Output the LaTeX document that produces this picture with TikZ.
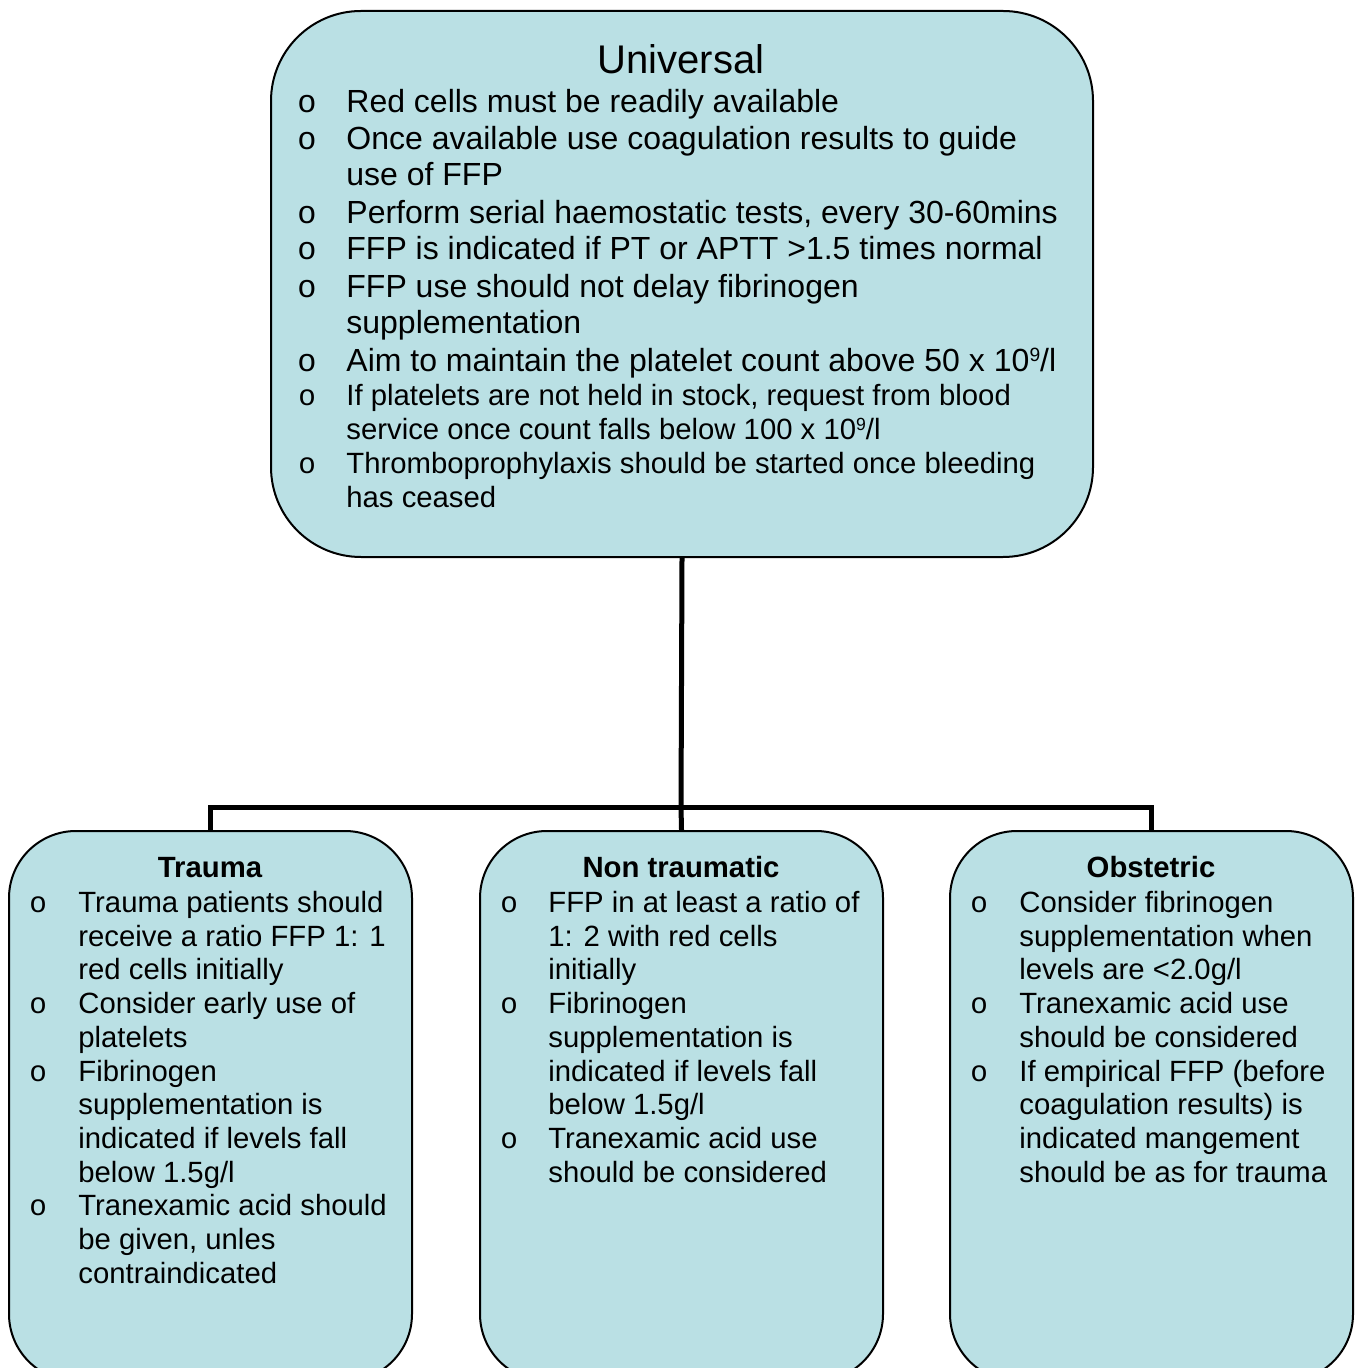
\documentclass[tikz,border=0pt]{standalone}
\usepackage{fontspec}
\setmainfont{Liberation Sans}
\newfontfamily\bulletfont{Liberation Mono}
\definecolor{boxfill}{RGB}{186,224,228}
\newcommand{\supnine}[2]{\raisebox{#2}{\fontsize{#1}{#1}\selectfont 9}}
\begin{document}
\begin{tikzpicture}[x=0.5pt,y=-0.5pt,
  bigbox/.style={draw=black,line width=1pt,fill=boxfill,rounded corners=45pt,
    minimum width=411pt,minimum height=273pt,inner sep=0pt,anchor=north west},
  smallbox/.style={draw=black,line width=1pt,fill=boxfill,rounded corners=33.5pt,
    minimum width=201.5pt,minimum height=275pt,inner sep=0pt,anchor=north west},
  link/.style={line width=2.5pt,draw=black},
  txt/.style={anchor=base west,inner sep=0pt,font=\fontsize{16}{19}\selectfont},
  stxt/.style={anchor=base west,inner sep=0pt,font=\fontsize{14.65}{17}\selectfont},
  bul/.style={anchor=base west,inner sep=0pt,font=\fontsize{16}{19}\bulletfont},
  sbul/.style={anchor=base west,inner sep=0pt,font=\fontsize{14.65}{17}\bulletfont},
  head/.style={anchor=base,inner sep=0pt,font=\fontsize{14.65}{17}\selectfont\bfseries},
  title/.style={anchor=base,inner sep=0pt,font=\fontsize{20}{24}\selectfont}]
\useasboundingbox (0,0) rectangle (1357,1368);
\clip (0,0) rectangle (1357,1368);
% boxes
\node[bigbox] (U) at (270,10) {};
\node[smallbox] (T) at (8,830) {};
\node[smallbox] (N) at (479,830) {};
\node[smallbox] (O) at (949,830) {};
% connectors
\coordinate (J) at (681,807);
\draw[link] (U.south) -- (J);
\draw[link] (J) -| (T.north);
\draw[link] (J) -| (O.north);
\draw[link] (J) -- (N.north);
% top box text
\node[title] (ut) at (681,74) {Universal};
\node[bul] (ub1) at (297,112.5) {o};
\node[txt] (u1) at (346,112.5) {Red cells must be readily available};
\node[bul] (ub2) at (297,149.5) {o};
\node[txt] (u2) at (346,149.5) {Once available use coagulation results to guide};
\node[txt] (u3) at (346,185.5) {use of FFP};
\node[bul] (ub4) at (297,223.5) {o};
\node[txt] (u4) at (346,223.5) {Perform serial haemostatic tests, every 30-60mins};
\node[bul] (ub5) at (297,259.5) {o};
\node[txt] (u5) at (346,259.5) {FFP is indicated if PT or APTT >1.5 times normal};
\node[bul] (ub6) at (297,297.5) {o};
\node[txt] (u6) at (346,297.5) {FFP use should not delay fibrinogen};
\node[txt] (u7) at (346,333.5) {supplementation};
\node[bul] (ub8) at (297,371.5) {o};
\node[txt] (u8) at (346,371.5) {Aim to maintain the platelet count above 50 x 10\supnine{9.6pt}{5.1pt}/l};
\node[sbul] (ub9) at (298,405.5) {o};
\node[stxt] (u9) at (346,405.5) {If platelets are not held in stock, request from blood};
\node[stxt] (u10) at (346,439.5) {service once count falls below 100 x 10\supnine{8.8pt}{4.7pt}/l};
\node[sbul] (ub11) at (298,473.5) {o};
\node[stxt] (u11) at (346,473.5) {Thromboprophylaxis should be started once bleeding};
\node[stxt] (u12) at (346,507.5) {has ceased};
% trauma
\node[head] (th) at (210,877.5) {Trauma};
\node[sbul] (tb1) at (29,912.5) {o};
\node[stxt] (t1) at (78,912.5) {Trauma patients should};
\node[stxt] (t2) at (78,946.2) {receive a ratio FFP 1: 1};
\node[stxt] (t3) at (78,979.9) {red cells initially};
\node[sbul] (tb4) at (29,1013.6) {o};
\node[stxt] (t4) at (78,1013.6) {Consider early use of};
\node[stxt] (t5) at (78,1047.3) {platelets};
\node[sbul] (tb6) at (29,1081) {o};
\node[stxt] (t6) at (78,1081) {Fibrinogen};
\node[stxt] (t7) at (78,1114.7) {supplementation is};
\node[stxt] (t8) at (78,1148.4) {indicated if levels fall};
\node[stxt] (t9) at (78,1182.1) {below 1.5g/l};
\node[sbul] (tb10) at (29,1215.8) {o};
\node[stxt] (t10) at (78,1215.8) {Tranexamic acid should};
\node[stxt] (t11) at (78,1249.5) {be given, unles};
\node[stxt] (t12) at (78,1283.2) {contraindicated};
% non traumatic
\node[head] (nh) at (681,877.5) {Non traumatic};
\node[sbul] (nb1) at (500,912.5) {o};
\node[stxt] (n1) at (548,912.5) {FFP in at least a ratio of};
\node[stxt] (n2) at (548,946.2) {1: 2 with red cells};
\node[stxt] (n3) at (548,979.9) {initially};
\node[sbul] (nb4) at (500,1013.6) {o};
\node[stxt] (n4) at (548,1013.6) {Fibrinogen};
\node[stxt] (n5) at (548,1047.3) {supplementation is};
\node[stxt] (n6) at (548,1081) {indicated if levels fall};
\node[stxt] (n7) at (548,1114.7) {below 1.5g/l};
\node[sbul] (nb8) at (500,1148.4) {o};
\node[stxt] (n8) at (548,1148.4) {Tranexamic acid use};
\node[stxt] (n9) at (548,1182.1) {should be considered};
% obstetric
\node[head] (oh) at (1151,877.5) {Obstetric};
\node[sbul] (ob1) at (970,912.5) {o};
\node[stxt] (o1) at (1019,912.5) {Consider fibrinogen};
\node[stxt] (o2) at (1019,946.2) {supplementation when};
\node[stxt] (o3) at (1019,979.9) {levels are <2.0g/l};
\node[sbul] (ob4) at (970,1013.6) {o};
\node[stxt] (o4) at (1019,1013.6) {Tranexamic acid use};
\node[stxt] (o5) at (1019,1047.3) {should be considered};
\node[sbul] (ob6) at (970,1081) {o};
\node[stxt] (o6) at (1019,1081) {If empirical FFP (before};
\node[stxt] (o7) at (1019,1114.7) {coagulation results) is};
\node[stxt] (o8) at (1019,1148.4) {indicated mangement};
\node[stxt] (o9) at (1019,1182.1) {should be as for trauma};
\end{tikzpicture}
\end{document}
